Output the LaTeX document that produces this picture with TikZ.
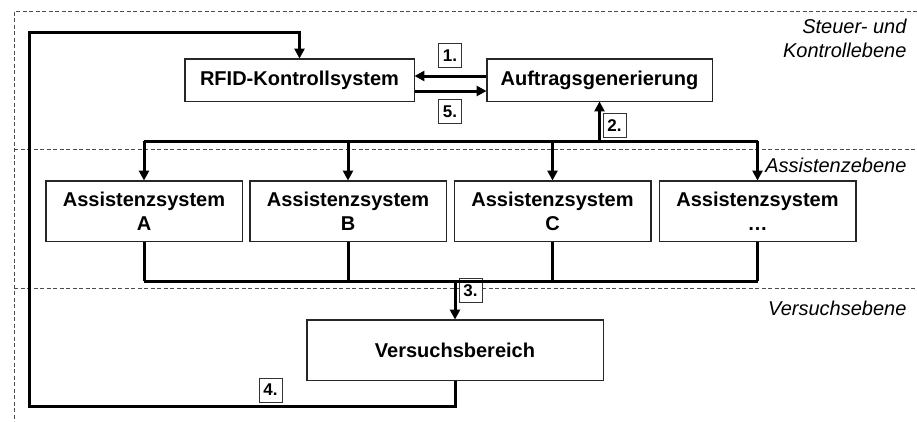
\documentclass[tikz,border=0pt]{standalone}
\usepackage{fontspec}
\setmainfont{Liberation Sans}
\usetikzlibrary{arrows.meta}
\begin{document}
\begin{tikzpicture}[x=1pt,y=-1pt,
  box/.style={draw=black!85,line width=0.9pt,fill=white,inner sep=0pt,
    font=\fontsize{20}{24}\selectfont\bfseries,align=center},
  steplbl/.style={draw=black!80,line width=0.8pt,fill=white,inner sep=0pt,
    minimum width=23pt,minimum height=24pt,font=\fontsize{17}{18}\selectfont\bfseries},
  layer/.style={font=\fontsize{20}{24}\selectfont\itshape,align=right,anchor=east},
  sep/.style={draw=black!70,line width=0.8pt,dash pattern=on 4pt off 2.5pt},
  conn/.style={line width=3pt,draw=black},
  arr/.style={conn,-{Triangle[length=10pt,width=10pt]}}]
\useasboundingbox (0,0) rectangle (917,421);

% layer frame and separators
\draw[sep] (917,11) -- (14,11) -- (14,421);
\draw[sep] (14,149) -- (917,149);
\draw[sep] (14,288) -- (917,288);

% layer names
\node[layer] (lcontrol) at (910,38) {Steuer- und\\Kontrollebene};
\node[layer] (lassist) at (910,165) {Assistenzebene};
\node[layer] (ltest) at (910,308) {Versuchsebene};

% step numbers
\node[steplbl] (s1) at (450,55.5) {1.};
\node[steplbl] (s5) at (450,111.5) {5.};
\node[steplbl] (s2) at (614.5,125.5) {2.};
\node[steplbl] (s3) at (470.5,290.5) {3.};
\node[steplbl] (s4) at (270.5,390) {4.};

% boxes
\node[box,minimum width=229pt,minimum height=42pt] (rfid) at (299.5,80) {RFID-Kontrollsystem};
\node[box,minimum width=225pt,minimum height=42pt] (auf) at (599.5,80) {Auftragsgenerierung};
\node[box,minimum width=196pt,minimum height=60pt] (aA) at (144,211) {Assistenzsystem\\A};
\node[box,minimum width=196pt,minimum height=60pt] (aB) at (348,211) {Assistenzsystem\\B};
\node[box,minimum width=196pt,minimum height=60pt] (aC) at (552.5,211) {Assistenzsystem\\C};
\node[box,minimum width=196pt,minimum height=60pt] (aD) at (757.5,211) {Assistenzsystem\\\ldots};
\node[box,minimum width=296pt,minimum height=60pt] (vb) at (455,350) {Versuchsbereich};

% bus levels and loop corners
\coordinate (busT) at (0,141);
\coordinate (busB) at (0,281);
\coordinate (loopBL) at (29,406);
\coordinate (loopTL) at (29,32);

% control level
\draw[arr] ([yshift=4pt]auf.west) -- ([yshift=4pt]rfid.east);
\draw[arr] ([yshift=-11pt]rfid.east) -- ([yshift=-11pt]auf.west);

% distribution bus to the assistance systems
\draw[conn] (aA.north |- busT) -- (aD.north |- busT);
\draw[arr] (auf.south |- busT) -- (auf.south);
\foreach \n in {aA,aB,aC,aD}
  \draw[arr] (\n.north |- busT) -- (\n.north);

% collecting bus to the test area
\draw[conn] (aA.south |- busB) -- (aD.south |- busB);
\foreach \n in {aA,aB,aC,aD}
  \draw[conn] (\n.south) -- (\n.south |- busB);
\draw[arr] (vb.north |- busB) -- (vb.north);

% feedback loop to the RFID control system
\draw[arr] (vb.south) -- (vb.south |- loopBL) -- (loopBL) -- (loopTL)
  -- (rfid.north |- loopTL) -- (rfid.north);

% redraw the boxes above the connector ends
\foreach \n in {rfid,auf,aA,aB,aC,aD,vb}
  \draw[black!85,line width=0.9pt] (\n.north west) rectangle (\n.south east);
\end{tikzpicture}
\end{document}
